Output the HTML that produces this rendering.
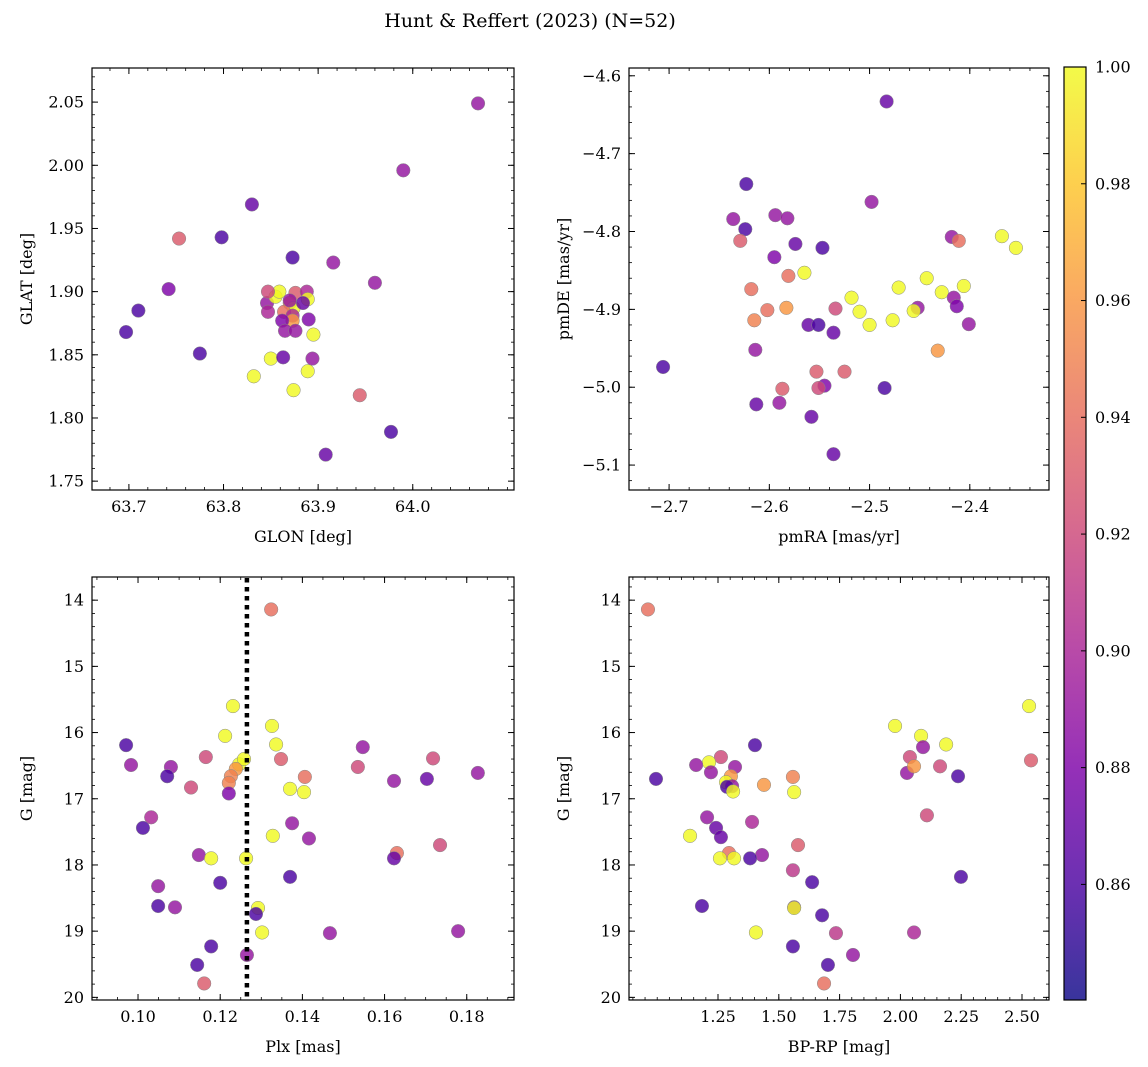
<!DOCTYPE html>
<html><head><meta charset="utf-8">
<style>
html,body{margin:0;padding:0;background:#fff;}
svg{display:block;font-family:"DejaVu Serif","Liberation Serif",serif;}
</style></head>
<body>
<svg id="fig" width="1148" height="1067" viewBox="0 0 1148 1067" xmlns="http://www.w3.org/2000/svg">
<text x="530" y="27" font-size="19" text-anchor="middle">Hunt &amp; Reffert (2023) (N=52)</text>
</svg>
<script>
// ---- data ----
const p1_glon=[64.069,63.990,63.830,63.798,63.753,63.873,63.916,63.742,63.960,63.710,63.697,63.775,63.846,63.847,63.855,63.859,63.876,63.888,63.889,63.870,63.874,63.864,63.873,63.873,63.862,63.870,63.890,63.895,63.865,63.876,63.850,63.863,63.894,63.832,63.889,63.874,63.944,63.977,63.908,63.847,63.884];
const p1_glat=[2.049,1.996,1.969,1.943,1.942,1.927,1.923,1.902,1.907,1.885,1.868,1.851,1.891,1.884,1.896,1.900,1.899,1.900,1.894,1.891,1.887,1.884,1.881,1.877,1.877,1.893,1.878,1.866,1.869,1.869,1.847,1.848,1.847,1.833,1.837,1.822,1.818,1.789,1.771,1.900,1.891];
const p1_prob=[0.89,0.89,0.87,0.86,0.93,0.86,0.89,0.88,0.89,0.86,0.86,0.86,0.89,0.90,1.0,1.0,0.93,0.90,1.0,0.96,1.0,0.94,0.90,0.96,0.88,0.89,0.88,1.0,0.89,0.89,1.0,0.87,0.89,1.0,1.0,1.0,0.93,0.86,0.87,0.92,0.87];

const p2_pmra=[-2.483,-2.623,-2.498,-2.636,-2.594,-2.582,-2.624,-2.629,-2.574,-2.547,-2.368,-2.354,-2.418,-2.411,-2.595,-2.565,-2.581,-2.443,-2.618,-2.471,-2.428,-2.406,-2.416,-2.518,-2.583,-2.602,-2.615,-2.534,-2.510,-2.452,-2.456,-2.413,-2.477,-2.500,-2.561,-2.551,-2.401,-2.536,-2.432,-2.614,-2.706,-2.553,-2.525,-2.545,-2.551,-2.485,-2.587,-2.590,-2.613,-2.558,-2.536];
const p2_pmde=[-4.633,-4.739,-4.762,-4.784,-4.779,-4.783,-4.797,-4.812,-4.816,-4.821,-4.806,-4.821,-4.807,-4.812,-4.833,-4.853,-4.857,-4.860,-4.874,-4.872,-4.878,-4.870,-4.885,-4.885,-4.898,-4.901,-4.914,-4.899,-4.903,-4.898,-4.902,-4.896,-4.914,-4.920,-4.920,-4.920,-4.919,-4.930,-4.953,-4.952,-4.974,-4.980,-4.980,-4.998,-5.001,-5.001,-5.002,-5.020,-5.022,-5.038,-5.086];
const p2_prob=[0.87,0.86,0.89,0.89,0.89,0.89,0.86,0.93,0.87,0.86,1.0,1.0,0.89,0.94,0.88,1.0,0.94,1.0,0.94,1.0,1.0,1.0,0.89,1.0,0.96,0.94,0.95,0.92,1.0,0.89,1.0,0.88,1.0,1.0,0.87,0.86,0.89,0.87,0.96,0.89,0.86,0.93,0.93,0.88,0.92,0.86,0.93,0.89,0.87,0.87,0.87];

const p3_plx=[0.1324,0.1231,0.1326,0.0971,0.1212,0.1336,0.1547,0.0983,0.1165,0.1246,0.1258,0.1238,0.1348,0.1080,0.1718,0.1535,0.1827,0.1071,0.1226,0.1406,0.1623,0.1703,0.1221,0.1129,0.1221,0.1370,0.1404,0.1032,0.1375,0.1012,0.1328,0.1416,0.1735,0.1148,0.1178,0.1630,0.1623,0.1263,0.1370,0.1200,0.1049,0.1090,0.1049,0.1292,0.1287,0.1302,0.1467,0.1779,0.1178,0.1265,0.1144,0.1161];
const p3_g=[14.14,15.60,15.90,16.19,16.05,16.18,16.22,16.49,16.37,16.48,16.40,16.55,16.40,16.52,16.39,16.52,16.61,16.66,16.66,16.67,16.73,16.70,16.76,16.83,16.92,16.85,16.90,17.28,17.37,17.44,17.56,17.60,17.70,17.85,17.90,17.82,17.90,17.90,18.18,18.27,18.32,18.64,18.62,18.65,18.74,19.02,19.03,19.00,19.23,19.36,19.51,19.79];
const p3_prob=[0.94,1.0,1.0,0.86,1.0,1.0,0.89,0.89,0.92,1.0,1.0,0.96,0.93,0.89,0.92,0.92,0.89,0.86,0.95,0.94,0.89,0.87,0.95,0.92,0.88,1.0,1.0,0.90,0.89,0.86,1.0,0.89,0.92,0.89,1.0,0.94,0.87,1.0,0.86,0.86,0.89,0.89,0.86,1.0,0.86,1.0,0.89,0.89,0.86,0.89,0.86,0.93];
const p3_plxLine=0.1265;

const p4_bprp=[0.962,2.529,1.978,2.085,2.188,1.402,2.093,1.262,2.039,1.213,1.320,1.160,2.163,1.221,2.537,2.027,2.237,0.995,1.558,1.303,1.283,1.308,1.439,2.056,1.287,1.312,1.563,2.109,1.390,1.205,1.242,1.135,1.262,1.579,1.295,1.431,1.258,1.316,1.382,1.558,2.249,1.637,1.184,1.563,1.563,1.678,1.406,1.735,2.056,1.558,1.805,1.702,1.686];
const p4_g=[14.14,15.60,15.90,16.05,16.18,16.19,16.22,16.37,16.37,16.45,16.52,16.49,16.51,16.60,16.42,16.61,16.66,16.70,16.67,16.66,16.75,16.81,16.79,16.51,16.82,16.89,16.90,17.25,17.35,17.28,17.44,17.56,17.58,17.70,17.82,17.85,17.90,17.90,17.90,18.08,18.18,18.26,18.62,18.64,18.65,18.76,19.02,19.03,19.02,19.23,19.36,19.51,19.79];
const p4_prob=[0.94,1.0,1.0,1.0,1.0,0.86,0.89,0.92,0.92,1.0,0.89,0.89,0.92,0.89,0.93,0.89,0.86,0.86,0.95,0.96,1.0,0.89,0.96,0.96,0.86,1.0,1.0,0.92,0.90,0.89,0.87,1.0,0.87,0.93,0.94,0.89,1.0,1.0,0.86,0.91,0.86,0.86,0.86,0.89,1.0,0.86,1.0,0.91,0.90,0.86,0.89,0.86,0.94];

const p1_xticks=[63.7,63.8,63.9,64.0], p1_xlabels=["63.7","63.8","63.9","64.0"];
const p1_yticks=[1.75,1.80,1.85,1.90,1.95,2.00,2.05], p1_ylabels=["1.75","1.80","1.85","1.90","1.95","2.00","2.05"];
const p2_xticks=[-2.7,-2.6,-2.5,-2.4], p2_xlabels=["−2.7","−2.6","−2.5","−2.4"];
const p2_yticks=[-5.1,-5.0,-4.9,-4.8,-4.7,-4.6], p2_ylabels=["−5.1","−5.0","−4.9","−4.8","−4.7","−4.6"];
const p3_xticks=[0.10,0.12,0.14,0.16,0.18], p3_xlabels=["0.10","0.12","0.14","0.16","0.18"];
const g_yticks=[14,15,16,17,18,19,20], g_ylabels=["14","15","16","17","18","19","20"];
const p4_xticks=[1.25,1.5,1.75,2.0,2.25,2.5], p4_xlabels=["1.25","1.50","1.75","2.00","2.25","2.50"];
const cb_ticks=[0.86,0.88,0.90,0.92,0.94,0.96,0.98,1.00], cb_labels=["0.86","0.88","0.90","0.92","0.94","0.96","0.98","1.00"];
const vmin=0.8402, vmax=1.0;

// ---- helpers ----
const NS="http://www.w3.org/2000/svg";
const svg=document.getElementById('fig');
function mk(tag,attrs,parent){const e=document.createElementNS(NS,tag);for(const k in attrs)e.setAttribute(k,attrs[k]);(parent||svg).appendChild(e);return e;}
const stops=[[13,8,135],[76,2,161],[126,3,168],[169,35,149],[204,71,120],[230,108,92],[248,149,64],[253,197,39],[240,249,33]];
function plasma(t){t=Math.max(0,Math.min(1,t));const f=t*8,i=Math.min(7,Math.floor(f)),r=f-i;const a=stops[i],b=stops[i+1];return `rgb(${a.map((v,k)=>Math.round(v+(b[k]-v)*r)).join(',')})`;}
function lin(d0,d1,r0,r1){return v=>r0+(v-d0)/(d1-d0)*(r1-r0);}

function panel(name,box,xd,yd,xt,xl,yt,yl,xminor,yminor,xs,ys,cs,xlabel,ylabel){
  const g=mk('g',{});
  
  
  const X=lin(xd[0],xd[1],box.x0,box.x1), Y=lin(yd[0],yd[1],box.y0,box.y1);
  const lo=Math.min(box.x0,box.x1),hi=Math.max(box.x0,box.x1),tp=Math.min(box.y0,box.y1),bt=Math.max(box.y0,box.y1);
  const pts=mk('g',{},g);
  
  
  for(let i=0;i<xs.length;i++){
    const c=mk('circle',{cx:X(xs[i]),cy:Y(ys[i]),r:6.8,fill:plasma((cs[i]-vmin)/(vmax-vmin)),'fill-opacity':0.82,stroke:'#888','stroke-width':0.5},pts);
    
    
  }
  const fr=mk('rect',{x:lo,y:tp,width:hi-lo,height:bt-tp,fill:'none',stroke:'#000','stroke-width':1.2},g);
  
  
  const xa=Math.min(xd[0],xd[1]),xb=Math.max(xd[0],xd[1]);
  for(let v=Math.ceil(xa/xminor-1e-6)*xminor;v<=xb+1e-9;v+=xminor){const p=X(v);mk('line',{x1:p,x2:p,y1:bt,y2:bt-3,stroke:'#000','stroke-width':0.8},g);mk('line',{x1:p,x2:p,y1:tp,y2:tp+3,stroke:'#000','stroke-width':0.8},g);}
  const ya=Math.min(yd[0],yd[1]),yb=Math.max(yd[0],yd[1]);
  for(let v=Math.ceil(ya/yminor-1e-6)*yminor;v<=yb+1e-9;v+=yminor){const p=Y(v);mk('line',{x1:lo,x2:lo+3,y1:p,y2:p,stroke:'#000','stroke-width':0.8},g);mk('line',{x1:hi,x2:hi-3,y1:p,y2:p,stroke:'#000','stroke-width':0.8},g);}
  xt.forEach((v,i)=>{const p=X(v);mk('line',{x1:p,x2:p,y1:bt,y2:bt-6,stroke:'#000','stroke-width':1},g);mk('line',{x1:p,x2:p,y1:tp,y2:tp+6,stroke:'#000','stroke-width':1},g);
    const t=mk('text',{x:p,y:bt+22,'font-size':16,'text-anchor':'middle'},g);t.textContent=xl[i];
    
    });
  yt.forEach((v,i)=>{const p=Y(v);mk('line',{x1:lo,x2:lo+6,y1:p,y2:p,stroke:'#000','stroke-width':1},g);mk('line',{x1:hi,x2:hi-6,y1:p,y2:p,stroke:'#000','stroke-width':1},g);
    const t=mk('text',{x:lo-8,y:p+5.5,'font-size':16,'text-anchor':'end'},g);t.textContent=yl[i];
    
    });
  const xt2=mk('text',{x:(lo+hi)/2,y:bt+52,'font-size':16,'text-anchor':'middle'},g);xt2.textContent=xlabel;
  
  
  const cy=(tp+bt)/2, cx=lo-60;
  const yt2=mk('text',{x:cx,y:cy,'font-size':16,'text-anchor':'middle',transform:`rotate(-90 ${cx} ${cy})`},g);yt2.textContent=ylabel;
  
  
  return {X,Y,g};
}

panel('glon-glat-panel',{x0:92,x1:514,y0:490,y1:68},[63.661,64.107],[1.743,2.077],p1_xticks,p1_xlabels,p1_yticks,p1_ylabels,0.02,0.01,p1_glon,p1_glat,p1_prob,'GLON [deg]','GLAT [deg]');
panel('pm-panel',{x0:629,x1:1049,y0:490,y1:68},[-2.740,-2.321],[-5.132,-4.590],p2_xticks,p2_xlabels,p2_yticks,p2_ylabels,0.02,0.02,p2_pmra,p2_pmde,p2_prob,'pmRA [mas/yr]','pmDE [mas/yr]');
const P3=panel('plx-g-panel',{x0:92,x1:514,y0:577,y1:1000},[0.0888,0.1915],[13.65,20.04],p3_xticks,p3_xlabels,g_yticks,g_ylabels,0.005,0.2,p3_plx,p3_g,p3_prob,'Plx [mas]','G [mag]');
const vl=mk('line',{x1:P3.X(p3_plxLine),x2:P3.X(p3_plxLine),y1:578,y2:999,stroke:'#000','stroke-width':4.5,'stroke-dasharray':'4.5 4.5'},P3.g);


panel('color-g-panel',{x0:629,x1:1049,y0:577,y1:1000},[0.884,2.611],[13.65,20.04],p4_xticks,p4_xlabels,g_yticks,g_ylabels,0.05,0.2,p4_bprp,p4_g,p4_prob,'BP-RP [mag]','G [mag]');

// colorbar
const cb=mk('g',{});


const cbx=1064,cbw=22,cbt=67,cbb=1000;
const defs=mk('defs',{},cb);
const grad=mk('linearGradient',{id:'pg',x1:0,y1:1,x2:0,y2:0},defs);
for(let i=0;i<=16;i++){mk('stop',{offset:i/16,'stop-color':plasma(i/16),'stop-opacity':0.82},grad);}
mk('rect',{x:cbx,y:cbt,width:cbw,height:cbb-cbt,fill:'url(#pg)',stroke:'#000','stroke-width':1.2},cb);
const CY=lin(vmin,vmax,cbb,cbt);
cb_ticks.forEach((v,i)=>{const p=CY(v);mk('line',{x1:cbx+cbw,x2:cbx+cbw-5,y1:p,y2:p,stroke:'#000','stroke-width':1},cb);
  const t=mk('text',{x:cbx+cbw+9,y:p+5.5,'font-size':16},cb);t.textContent=cb_labels[i];
  
  });
</script>
</body></html>
